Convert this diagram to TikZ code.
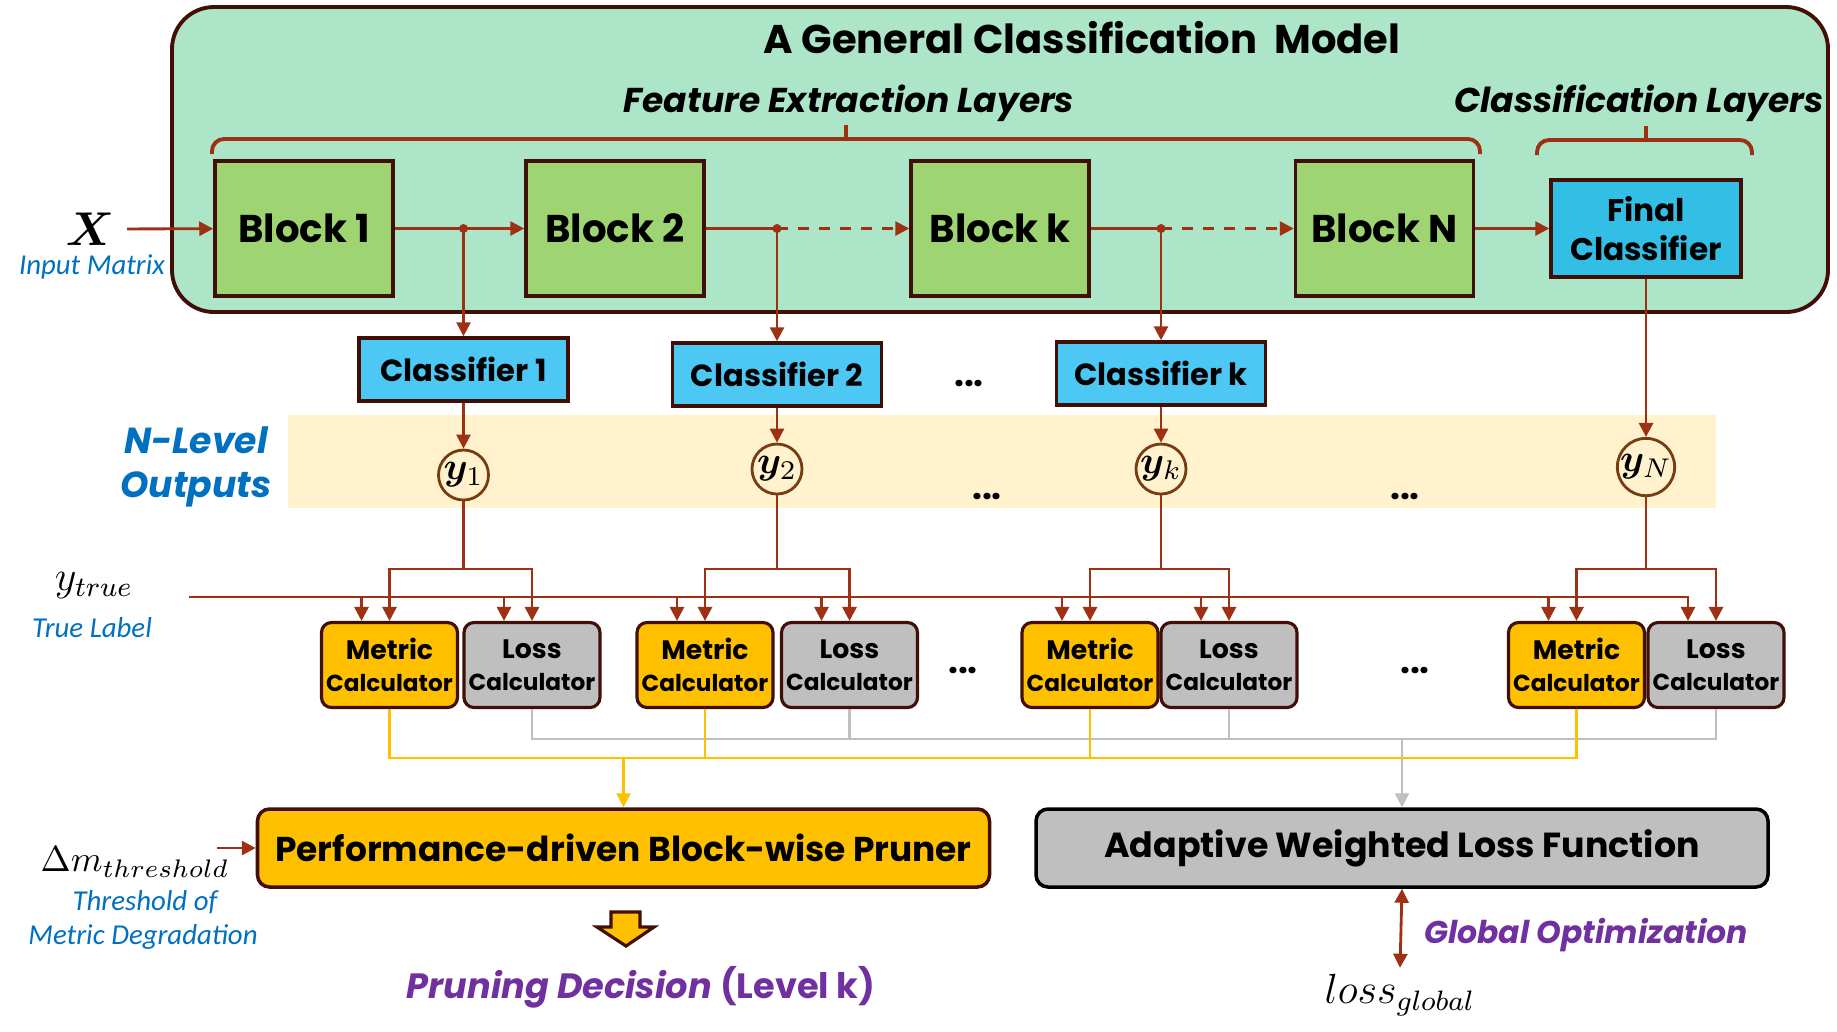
\documentclass[tikz,border=0pt]{standalone}
\usepackage{fix-cm}
\usepackage{fontspec}
\usepackage{bm}
\usetikzlibrary{arrows.meta}
\newfontfamily\gothic{Poppins}
\newfontfamily\calib{Carlito}

\definecolor{bggreen}{RGB}{172,229,199}
\definecolor{blockgreen}{RGB}{158,213,114}
\definecolor{clsblue}{RGB}{77,200,245}
\definecolor{finalblue}{RGB}{51,190,230}
\definecolor{darkbrown}{RGB}{65,15,5}
\definecolor{arrowred}{RGB}{158,48,20}
\definecolor{band}{RGB}{255,242,204}
\definecolor{metricyellow}{RGB}{255,192,0}
\definecolor{lossgray}{RGB}{191,191,191}
\definecolor{labelblue}{RGB}{0,112,192}
\definecolor{labelpurple}{RGB}{112,48,160}
\definecolor{ringbrown}{RGB}{120,60,20}

\tikzset{
  wire/.style={draw=arrowred, line width=0.8pt},
  arr/.style={wire, -{Triangle[length=1.4mm,width=1.4mm]}},
  yline/.style={draw=metricyellow, line width=0.8pt},
  gline/.style={draw=lossgray, line width=0.8pt},
  brace/.style={draw=arrowred, line width=1.1pt, rounded corners=1.2mm},
  block/.style={draw=darkbrown, fill=blockgreen, line width=1pt, minimum width=17.8mm, minimum height=13.5mm, inner sep=0pt, font=\gothic\bfseries\fontsize{11}{13}\selectfont},
  cls/.style={draw=darkbrown, fill=clsblue, line width=1pt, minimum width=20.9mm, minimum height=6.3mm, inner sep=0pt, font=\gothic\bfseries\fontsize{8.7}{10}\selectfont},
  levelout/.style={circle, draw=ringbrown, line width=0.8pt, minimum size=5mm, inner sep=0pt, font=\fontsize{11}{13}\selectfont},
  calcbox/.style={draw=darkbrown, line width=0.9pt, rounded corners=1mm, minimum width=13.6mm, minimum height=8.5mm, inner sep=0pt, align=center, font=\gothic\bfseries\fontsize{6.6}{9}\selectfont},
  bigbox/.style={line width=1pt, rounded corners=1.2mm, minimum width=73.2mm, minimum height=7.8mm, inner sep=0pt, font=\gothic\bfseries\fontsize{9.8}{12}\selectfont},
  note/.style={font=\calib\itshape\fontsize{8.2}{10}\selectfont, text=labelblue, inner sep=0pt},
  ellip/.style={font=\gothic\bfseries\fontsize{10}{12}\selectfont, inner sep=0pt}
}

\begin{document}
\begin{tikzpicture}[x=0.1mm, y=-0.1mm]
\useasboundingbox (0,0) rectangle (1837,1031);

% model frame
\draw[draw=darkbrown, fill=bggreen, line width=1.1pt, rounded corners=4.2mm] (172,7) rectangle (1828,312);
\node[anchor=base, font=\gothic\bfseries\fontsize{11.4}{13}\selectfont] (title) at (1082,53) {A General Classification\ \ Model};
\node[anchor=base, font=\gothic\bfseries\itshape\fontsize{9.8}{12}\selectfont] (feat) at (849,112) {Feature Extraction Layers};
\node[anchor=base, font=\gothic\bfseries\itshape\fontsize{9.8}{12}\selectfont] (clsl) at (1639,112) {Classification Layers};
\draw[brace] (212,154) -- (212,139) -- (1480,139) -- (1480,154);
\draw[brace] (846,139) -- (846,125);
\draw[brace] (1537,155) -- (1537,140) -- (1752,140) -- (1752,155);
\draw[brace] (1646,140) -- (1646,126);

% outputs band
\fill[band] (288,415) rectangle (1716,508);
\node[anchor=base, font=\gothic\bfseries\itshape\fontsize{10.3}{13}\selectfont, text=labelblue] (nlev) at (196,453) {N-Level};
\node[anchor=base, font=\gothic\bfseries\itshape\fontsize{10.3}{13}\selectfont, text=labelblue] (nout) at (196,497) {Outputs};

% input
\node[font=\fontsize{13.5}{15}\selectfont, inner sep=1.2mm] (X) at (90,229) {$\bm{X}$};
\node[note] (inm) at (92,267) {Input Matrix};

% blocks and classifiers
\foreach \g/\bx in {1/304, 2/615, k/1000, N/1384.5}
  \node[block] (b\g) at (\bx,228.5) {Block \g};
\node[block, fill=finalblue, minimum width=19mm, minimum height=9.7mm, align=center, font=\gothic\bfseries\fontsize{8.9}{11.1}\selectfont] (fc) at (1646,228.5) {Final\\Classifier};
\foreach \g/\cx/\cy in {1/463.5/369.5, 2/777/374.5, k/1161/373.5}
  \node[cls] (c\g) at (\cx,\cy) {Classifier \g};
\node[ellip] at (969,383) {...};

% level outputs
\foreach \g/\ox/\oy in {1/463.5/475, 2/777/469, k/1161/469, N/1646/467}
  \node[levelout] (y\g) at (\ox,\oy) {$\bm{y}_{\g}$};
\node[ellip] at (987,496) {...};
\node[ellip] at (1405,496) {...};

% main chain
\foreach \g in {1,2,k}
  \coordinate (d\g) at (c\g |- b1);
\draw[arr] (X) -- (b1);
\draw[wire] (b1) -- (d1);
\draw[arr] (d1) -- (b2);
\draw[wire] (b2) -- (d2);
\draw[arr, dashed] (d2) -- (bk);
\draw[wire] (bk) -- (dk);
\draw[arr, dashed] (dk) -- (bN);
\draw[arr] (bN) -- (fc);
\foreach \g in {1,2,k} {
  \draw[arr] (d\g) -- (c\g);
  \fill[arrowred] (d\g) circle[radius=0.45mm];
  \draw[arr] (c\g) -- (y\g);
}
\draw[arr] (fc) -- (yN);

% calculators
\foreach \g/\mx/\lx in {1/389.5/532, 2/705/849.5, k/1090/1229, N/1576.5/1716} {
  \node[calcbox, fill=metricyellow] (m\g) at (\mx,665) {{\fontsize{7.6}{9}\selectfont Metric}\\Calculator};
  \node[calcbox, fill=lossgray] (l\g) at (\lx,665) {{\fontsize{7.6}{9}\selectfont Loss}\\Calculator};
}
\node[ellip] at (963,670) {...};
\node[ellip] at (1415,670) {...};

% true label
\node[font=\fontsize{12}{14}\selectfont, inner sep=0pt] (ytrue) at (94,585) {$y_{true}$};
\node[note] (tlab) at (92,628) {True Label};
\coordinate (tline) at (189,597);
\coordinate (brl) at (0,569);
\coordinate (ybus) at (0,758);
\coordinate (gbus) at (0,739);

\draw[arr] (tline) -| ([xshift=-2.8mm]lN.north);
\foreach \g in {1,2,k,N} {
  \draw[wire] (y\g) -- (y\g |- brl);
  \draw[arr] (y\g |- brl) -| (m\g.north);
  \draw[arr] (y\g |- brl) -| (l\g.north);
  \coordinate (mt) at ([xshift=-2.8mm]m\g.north);
  \draw[arr] (mt |- tline) -- (mt);
}
\foreach \g in {1,2,k} {
  \coordinate (lt) at ([xshift=-2.8mm]l\g.north);
  \draw[arr] (lt |- tline) -- (lt);
}

% pruner and loss function
\node[bigbox, draw=darkbrown, fill=metricyellow] (pruner) at (623.5,848) {Performance-driven Block-wise Pruner};
\node[bigbox, draw=black, fill=lossgray, font=\gothic\bfseries\fontsize{9.9}{12}\selectfont] (lossfn) at (1402,848) {Adaptive Weighted Loss Function};

\draw[gline] (l1.south) |- (lN |- gbus) -- (lN.south);
\draw[gline] (l2.south) -- (l2 |- gbus);
\draw[gline] (lk.south) -- (lk |- gbus);
\draw[gline, -{Triangle[length=1.4mm,width=1.4mm]}] (lossfn |- gbus) -- (lossfn.north);
\draw[yline] (m1.south) |- (mN |- ybus) -- (mN.south);
\draw[yline] (m2.south) -- (m2 |- ybus);
\draw[yline] (mk.south) -- (mk |- ybus);
\draw[yline, -{Triangle[length=1.4mm,width=1.4mm]}] (pruner |- ybus) -- (pruner.north);

% threshold
\node[font=\fontsize{10.3}{13}\selectfont, inner sep=0pt] (dm) at (135,862) {$\Delta m_{threshold}$};
\node[note] (thr1) at (145,902) {Threshold of};
\node[note] (thr2) at (143,937) {Metric Degradation};
\draw[arr] ([xshift=-3.9mm]pruner.west) -- (pruner.west);

% decision
\draw[draw=darkbrown, fill=metricyellow, line width=0.9pt] (611,912) -- (640,912) -- (640,927) -- (654,927) -- (626,946) -- (597,927) -- (611,927) -- cycle;
\node[font=\gothic\bfseries\fontsize{10}{12}\selectfont, text=labelpurple] (dec) at (641,987) {\itshape Pruning Decision \upshape(Level k)};

% global loss
\node[font=\fontsize{12}{14}\selectfont, inner sep=0.6mm] (lossg) at (1400,995) {$loss_{global}$};
\draw[wire, {Triangle[length=1.4mm,width=1.4mm]}-{Triangle[length=1.4mm,width=1.4mm]}] (lossfn.south) -- (lossg.north);
\node[font=\gothic\bfseries\itshape\fontsize{8.95}{11}\selectfont, text=labelpurple] (gopt) at (1586,935) {Global Optimization};
\end{tikzpicture}
\end{document}
